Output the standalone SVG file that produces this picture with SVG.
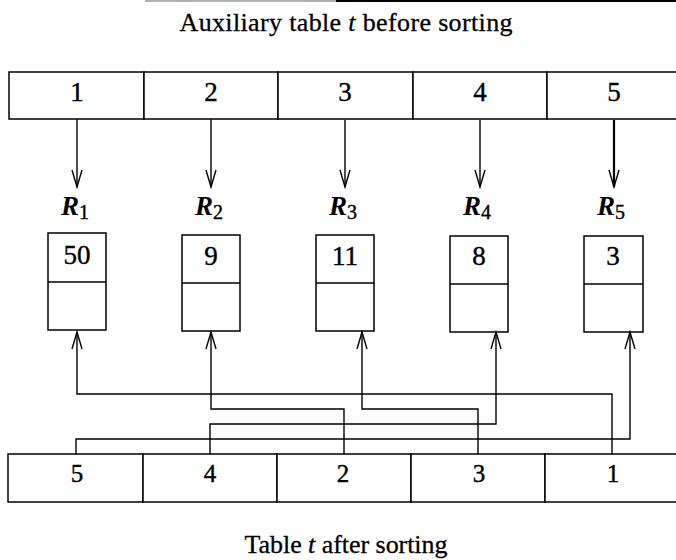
<svg xmlns="http://www.w3.org/2000/svg" width="676" height="560" viewBox="0 0 676 560">
  <style>
    .box { fill: #fff; stroke: #000; stroke-width: 1.5; }
    .div { stroke: #000; stroke-width: 1.5; }
    .line { fill: none; stroke: #000; stroke-width: 1.4; marker-end: url(#vee); }
    .thick { stroke-width: 2.2; }
    .num { font-family: "Liberation Serif", "Times New Roman", serif; font-size: 27px; text-anchor: middle; fill: #000; stroke: #000; stroke-width: 0.4; }
    .low { font-size: 25px; }
    .title { font-family: "Liberation Serif", "Times New Roman", serif; font-size: 26px; text-anchor: middle; fill: #000; stroke: #000; stroke-width: 0.3; }
    .rlab { font-family: "Liberation Serif", "Times New Roman", serif; font-size: 27px; font-style: italic; font-weight: bold; text-anchor: middle; fill: #000; }
    .sub { font-size: 20px; font-style: normal; font-weight: normal; stroke: #000; stroke-width: 0.4; }
  </style>
  <defs>
    <marker id="vee" viewBox="-19 -7 21 14" refX="0" refY="0" markerWidth="21" markerHeight="14" markerUnits="userSpaceOnUse" orient="auto">
      <path d="M-17,-5 L0,0 L-17,5" fill="none" stroke="#000" stroke-width="1.4"/>
    </marker>
  </defs>

  <!-- page rule at the top edge -->
  <line x1="145" y1="1" x2="336" y2="1" stroke="#999" stroke-width="1.5"/>
  <line x1="336" y1="1" x2="676" y2="1" stroke="#000" stroke-width="2"/>

  <text class="title" x="346" y="31" textLength="333">Auxiliary table <tspan font-style="italic">t</tspan> before sorting</text>

  <!-- auxiliary table before sorting -->
  <g id="aux-1"><rect class="box" x="9" y="72" width="135" height="47"/><text class="num" x="77" y="101">1</text></g>
  <g id="aux-2"><rect class="box" x="144" y="72" width="134" height="47"/><text class="num" x="211" y="101">2</text></g>
  <g id="aux-3"><rect class="box" x="278" y="72" width="135" height="47"/><text class="num" x="345" y="101">3</text></g>
  <g id="aux-4"><rect class="box" x="413" y="72" width="134" height="47"/><text class="num" x="480" y="101">4</text></g>
  <g id="aux-5"><rect class="box" x="547" y="72" width="140" height="47"/><text class="num" x="614" y="101">5</text></g>

  <!-- records -->
  <g id="R1">
    <text class="rlab" x="75" y="215">R<tspan class="sub" dy="4">1</tspan></text>
    <rect class="box" x="48" y="233" width="58" height="97"/>
    <line class="div" x1="48" y1="282" x2="106" y2="282"/>
    <text class="num" x="77" y="264">50</text>
  </g>
  <g id="R2">
    <text class="rlab" x="209" y="215">R<tspan class="sub" dy="4">2</tspan></text>
    <rect class="box" x="182" y="235" width="58" height="96"/>
    <line class="div" x1="182" y1="283" x2="240" y2="283"/>
    <text class="num" x="211" y="265">9</text>
  </g>
  <g id="R3">
    <text class="rlab" x="343" y="215">R<tspan class="sub" dy="4">3</tspan></text>
    <rect class="box" x="316" y="235" width="58" height="96"/>
    <line class="div" x1="316" y1="283" x2="374" y2="283"/>
    <text class="num" x="345" y="265">11</text>
  </g>
  <g id="R4">
    <text class="rlab" x="477" y="215">R<tspan class="sub" dy="4">4</tspan></text>
    <rect class="box" x="450" y="236" width="58" height="96"/>
    <line class="div" x1="450" y1="284" x2="508" y2="284"/>
    <text class="num" x="479" y="265">8</text>
  </g>
  <g id="R5">
    <text class="rlab" x="611" y="215">R<tspan class="sub" dy="4">5</tspan></text>
    <rect class="box" x="584" y="236" width="59" height="96"/>
    <line class="div" x1="584" y1="284" x2="643" y2="284"/>
    <text class="num" x="613" y="265">3</text>
  </g>

  <!-- table after sorting -->
  <g id="sorted-1"><rect class="box" x="8" y="454" width="135" height="48"/><text class="num low" x="77" y="482">5</text></g>
  <g id="sorted-2"><rect class="box" x="143" y="454" width="134" height="48"/><text class="num low" x="210" y="482">4</text></g>
  <g id="sorted-3"><rect class="box" x="277" y="454" width="134" height="48"/><text class="num low" x="343" y="482">2</text></g>
  <g id="sorted-4"><rect class="box" x="411" y="454" width="134" height="48"/><text class="num low" x="479" y="482">3</text></g>
  <g id="sorted-5"><rect class="box" x="545" y="454" width="142" height="48"/><text class="num low" x="613" y="482">1</text></g>

  <!-- connectors -->
  <g id="connectors">
    <path class="line" d="M77,119 V187"/>
    <path class="line" d="M211,119 V187"/>
    <path class="line" d="M345,120 V187"/>
    <path class="line" d="M480,120 V187"/>
    <path class="line thick" d="M614,120 V187"/>

    <path class="line" d="M612,454 V394 H77 V332"/>
    <path class="line" d="M344,454 V409 H211 V332"/>
    <path class="line" d="M478,454 V409 H362 V332"/>
    <path class="line" d="M210,454 V424 H496 V332"/>
    <path class="line" d="M76,454 V439 H630 V332"/>
  </g>

  <text class="title" x="346" y="553" textLength="203">Table <tspan font-style="italic">t</tspan> after sorting</text>
</svg>
